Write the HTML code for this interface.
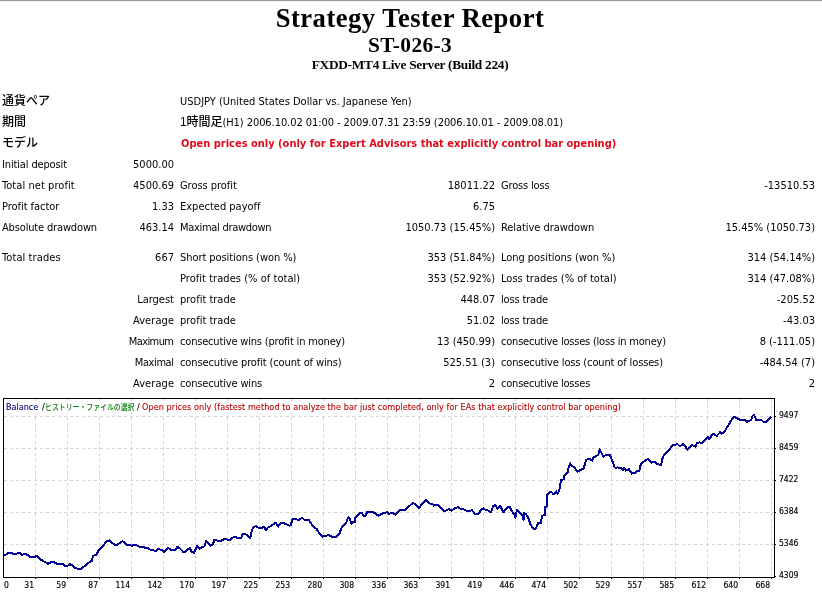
<!DOCTYPE html>
<html><head><meta charset="utf-8"><title>Strategy Tester: ST-026-3</title>
<style>
html,body{margin:0;padding:0;background:#fff;}
body{width:822px;height:592px;overflow:hidden;position:relative;}
.topline{position:absolute;left:0;top:0;width:822px;height:1px;background:#969696;}
.topline2{position:absolute;left:0;top:1px;width:822px;height:1px;background:#f4f4f4;}
.h{position:absolute;left:0;width:820px;text-align:center;font-family:"Liberation Serif","Times New Roman",serif;font-weight:bold;white-space:nowrap;line-height:1;color:#000;}
.t{position:absolute;font-family:"DejaVu Sans Condensed","Liberation Sans",sans-serif;font-size:11px;line-height:11px;white-space:nowrap;color:#000;}
.r{text-align:right;}
.jp{position:absolute;font-family:"Liberation Sans","Noto Sans CJK JP",sans-serif;font-weight:500;font-size:12px;line-height:16px;white-space:nowrap;color:#000;}
.jpi{font-family:"Liberation Sans","Noto Sans CJK JP",sans-serif;font-weight:500;font-size:12px;}
.ch{position:absolute;left:0;top:0;}
.ax{position:absolute;font-family:"DejaVu Sans Condensed","Liberation Sans",sans-serif;font-size:8.5px;line-height:8px;white-space:nowrap;color:#000;-webkit-text-stroke:0.15px #000;}
.lg{position:absolute;font-family:"DejaVu Sans Condensed","Liberation Sans",sans-serif;font-size:9px;line-height:9px;white-space:nowrap;-webkit-text-stroke:0.1px currentColor;}
.lgbg{position:absolute;background:#fff;}
.lgj{position:absolute;font-family:"Liberation Sans","Noto Sans CJK JP",sans-serif;font-weight:500;font-size:8px;line-height:10px;white-space:nowrap;transform:scaleX(0.86);transform-origin:0 0;}
</style></head><body>
<div class="topline"></div><div class="topline2"></div>
<div class="h" style="top:5px;font-size:26.67px;letter-spacing:0.45px">Strategy Tester Report</div>
<div class="h" style="top:35px;font-size:21.33px;letter-spacing:0.4px">ST-026-3</div>
<div class="h" style="top:58px;font-size:13.33px;letter-spacing:-0.28px">FXDD-MT4 Live Server (Build 224)</div>
<div class="jp" style="left:2px;top:93px">通貨ペア</div>
<div class="jp" style="left:2px;top:114px">期間</div>
<div class="jp" style="left:2px;top:135px">モデル</div>
<div class="t" style="left:180px;top:96px;">USDJPY (United States Dollar vs. Japanese Yen)</div>
<div class="t" style="left:180px;top:117px;letter-spacing:-0.067px;"><span class="jpi">1時間足</span>(H1) 2006.10.02 01:00 - 2009.07.31 23:59 (2006.10.01 - 2009.08.01)</div>
<div class="t" style="left:181px;top:138px;color:#dc0c1c;font-weight:bold;">Open prices only (only for Expert Advisors that explicitly control bar opening)</div>
<div class="t" style="left:2px;top:159px;letter-spacing:-0.143px;">Initial deposit</div>
<div class="t r" style="right:648.000px;top:159px;">5000.00</div>
<div class="t" style="left:2px;top:180px;letter-spacing:0.067px;">Total net profit</div>
<div class="t r" style="right:648.000px;top:180px;">4500.69</div>
<div class="t" style="left:180px;top:180px;letter-spacing:-0.045px;">Gross profit</div>
<div class="t r" style="right:327.000px;top:180px;">18011.22</div>
<div class="t" style="left:501px;top:180px;letter-spacing:-0.166px;">Gross loss</div>
<div class="t r" style="right:7.000px;top:180px;">-13510.53</div>
<div class="t" style="left:2px;top:201px;letter-spacing:-0.042px;">Profit factor</div>
<div class="t r" style="right:648.000px;top:201px;">1.33</div>
<div class="t" style="left:180px;top:201px;letter-spacing:0.001px;">Expected payoff</div>
<div class="t r" style="right:327.000px;top:201px;">6.75</div>
<div class="t" style="left:2px;top:222px;letter-spacing:-0.157px;">Absolute drawdown</div>
<div class="t r" style="right:648.000px;top:222px;">463.14</div>
<div class="t" style="left:180px;top:222px;letter-spacing:-0.301px;">Maximal drawdown</div>
<div class="t r" style="right:327.000px;top:222px;">1050.73 (15.45%)</div>
<div class="t" style="left:501px;top:222px;letter-spacing:-0.064px;">Relative drawdown</div>
<div class="t r" style="right:7.000px;top:222px;">15.45% (1050.73)</div>
<div class="t" style="left:2px;top:252px;letter-spacing:0.091px;">Total trades</div>
<div class="t r" style="right:648.000px;top:252px;">667</div>
<div class="t" style="left:180px;top:252px;letter-spacing:-0.069px;">Short positions (won %)</div>
<div class="t r" style="right:327.000px;top:252px;">353 (51.84%)</div>
<div class="t" style="left:501px;top:252px;letter-spacing:-0.046px;">Long positions (won %)</div>
<div class="t r" style="right:7.000px;top:252px;">314 (54.14%)</div>
<div class="t" style="left:180px;top:273px;letter-spacing:0.040px;">Profit trades (% of total)</div>
<div class="t r" style="right:327.000px;top:273px;">353 (52.92%)</div>
<div class="t" style="left:501px;top:273px;letter-spacing:0.021px;">Loss trades (% of total)</div>
<div class="t r" style="right:7.000px;top:273px;">314 (47.08%)</div>
<div class="t r" style="right:648.001px;top:294px;letter-spacing:-0.001px;">Largest</div>
<div class="t" style="left:180px;top:294px;letter-spacing:-0.001px;">profit trade</div>
<div class="t r" style="right:327.000px;top:294px;">448.07</div>
<div class="t" style="left:501px;top:294px;letter-spacing:-0.165px;">loss trade</div>
<div class="t r" style="right:7.000px;top:294px;">-205.52</div>
<div class="t r" style="right:647.916px;top:315px;letter-spacing:0.084px;">Average</div>
<div class="t" style="left:180px;top:315px;letter-spacing:-0.001px;">profit trade</div>
<div class="t r" style="right:327.000px;top:315px;">51.02</div>
<div class="t" style="left:501px;top:315px;letter-spacing:-0.165px;">loss trade</div>
<div class="t r" style="right:7.000px;top:315px;">-43.03</div>
<div class="t r" style="right:648.583px;top:336px;letter-spacing:-0.583px;">Maximum</div>
<div class="t" style="left:180px;top:336px;letter-spacing:-0.182px;">consecutive wins (profit in money)</div>
<div class="t r" style="right:327.000px;top:336px;">13 (450.99)</div>
<div class="t" style="left:501px;top:336px;letter-spacing:-0.212px;">consecutive losses (loss in money)</div>
<div class="t r" style="right:7.000px;top:336px;">8 (-111.05)</div>
<div class="t r" style="right:648.415px;top:357px;letter-spacing:-0.415px;">Maximal</div>
<div class="t" style="left:180px;top:357px;letter-spacing:-0.121px;">consecutive profit (count of wins)</div>
<div class="t r" style="right:327.000px;top:357px;">525.51 (3)</div>
<div class="t" style="left:501px;top:357px;letter-spacing:-0.137px;">consecutive loss (count of losses)</div>
<div class="t r" style="right:7.000px;top:357px;">-484.54 (7)</div>
<div class="t r" style="right:647.916px;top:378px;letter-spacing:0.084px;">Average</div>
<div class="t" style="left:180px;top:378px;letter-spacing:-0.167px;">consecutive wins</div>
<div class="t r" style="right:327.000px;top:378px;">2</div>
<div class="t" style="left:501px;top:378px;letter-spacing:-0.206px;">consecutive losses</div>
<div class="t r" style="right:7.000px;top:378px;">2</div>
<svg class="ch" width="822" height="592" viewBox="0 0 822 592">
<line x1="35.5" y1="399" x2="35.5" y2="577" stroke="#d2d2d2" stroke-width="1" stroke-dasharray="3,3"/>
<line x1="67.5" y1="399" x2="67.5" y2="577" stroke="#d2d2d2" stroke-width="1" stroke-dasharray="3,3"/>
<line x1="99.5" y1="399" x2="99.5" y2="577" stroke="#d2d2d2" stroke-width="1" stroke-dasharray="3,3"/>
<line x1="131.5" y1="399" x2="131.5" y2="577" stroke="#d2d2d2" stroke-width="1" stroke-dasharray="3,3"/>
<line x1="163.5" y1="399" x2="163.5" y2="577" stroke="#d2d2d2" stroke-width="1" stroke-dasharray="3,3"/>
<line x1="195.5" y1="399" x2="195.5" y2="577" stroke="#d2d2d2" stroke-width="1" stroke-dasharray="3,3"/>
<line x1="227.5" y1="399" x2="227.5" y2="577" stroke="#d2d2d2" stroke-width="1" stroke-dasharray="3,3"/>
<line x1="259.5" y1="399" x2="259.5" y2="577" stroke="#d2d2d2" stroke-width="1" stroke-dasharray="3,3"/>
<line x1="291.5" y1="399" x2="291.5" y2="577" stroke="#d2d2d2" stroke-width="1" stroke-dasharray="3,3"/>
<line x1="323.5" y1="399" x2="323.5" y2="577" stroke="#d2d2d2" stroke-width="1" stroke-dasharray="3,3"/>
<line x1="355.5" y1="399" x2="355.5" y2="577" stroke="#d2d2d2" stroke-width="1" stroke-dasharray="3,3"/>
<line x1="387.5" y1="399" x2="387.5" y2="577" stroke="#d2d2d2" stroke-width="1" stroke-dasharray="3,3"/>
<line x1="419.5" y1="399" x2="419.5" y2="577" stroke="#d2d2d2" stroke-width="1" stroke-dasharray="3,3"/>
<line x1="451.5" y1="399" x2="451.5" y2="577" stroke="#d2d2d2" stroke-width="1" stroke-dasharray="3,3"/>
<line x1="483.5" y1="399" x2="483.5" y2="577" stroke="#d2d2d2" stroke-width="1" stroke-dasharray="3,3"/>
<line x1="515.5" y1="399" x2="515.5" y2="577" stroke="#d2d2d2" stroke-width="1" stroke-dasharray="3,3"/>
<line x1="547.5" y1="399" x2="547.5" y2="577" stroke="#d2d2d2" stroke-width="1" stroke-dasharray="3,3"/>
<line x1="579.5" y1="399" x2="579.5" y2="577" stroke="#d2d2d2" stroke-width="1" stroke-dasharray="3,3"/>
<line x1="611.5" y1="399" x2="611.5" y2="577" stroke="#d2d2d2" stroke-width="1" stroke-dasharray="3,3"/>
<line x1="643.5" y1="399" x2="643.5" y2="577" stroke="#d2d2d2" stroke-width="1" stroke-dasharray="3,3"/>
<line x1="675.5" y1="399" x2="675.5" y2="577" stroke="#d2d2d2" stroke-width="1" stroke-dasharray="3,3"/>
<line x1="707.5" y1="399" x2="707.5" y2="577" stroke="#d2d2d2" stroke-width="1" stroke-dasharray="3,3"/>
<line x1="739.5" y1="399" x2="739.5" y2="577" stroke="#d2d2d2" stroke-width="1" stroke-dasharray="3,3"/>
<line x1="771.5" y1="399" x2="771.5" y2="577" stroke="#d2d2d2" stroke-width="1" stroke-dasharray="3,3"/>
<line x1="4" y1="416.5" x2="774" y2="416.5" stroke="#d2d2d2" stroke-width="1" stroke-dasharray="3,3"/>
<line x1="4" y1="448.5" x2="774" y2="448.5" stroke="#d2d2d2" stroke-width="1" stroke-dasharray="3,3"/>
<line x1="4" y1="480.5" x2="774" y2="480.5" stroke="#d2d2d2" stroke-width="1" stroke-dasharray="3,3"/>
<line x1="4" y1="512.5" x2="774" y2="512.5" stroke="#d2d2d2" stroke-width="1" stroke-dasharray="3,3"/>
<line x1="4" y1="544.5" x2="774" y2="544.5" stroke="#d2d2d2" stroke-width="1" stroke-dasharray="3,3"/>
<rect x="3.5" y="398.5" width="771" height="179" fill="none" stroke="#000" stroke-width="1"/>
<rect x="35" y="578" width="1" height="1" fill="#000"/>
<rect x="67" y="578" width="1" height="1" fill="#000"/>
<rect x="99" y="578" width="1" height="1" fill="#000"/>
<rect x="131" y="578" width="1" height="1" fill="#000"/>
<rect x="163" y="578" width="1" height="1" fill="#000"/>
<rect x="195" y="578" width="1" height="1" fill="#000"/>
<rect x="227" y="578" width="1" height="1" fill="#000"/>
<rect x="259" y="578" width="1" height="1" fill="#000"/>
<rect x="291" y="578" width="1" height="1" fill="#000"/>
<rect x="323" y="578" width="1" height="1" fill="#000"/>
<rect x="355" y="578" width="1" height="1" fill="#000"/>
<rect x="387" y="578" width="1" height="1" fill="#000"/>
<rect x="419" y="578" width="1" height="1" fill="#000"/>
<rect x="451" y="578" width="1" height="1" fill="#000"/>
<rect x="483" y="578" width="1" height="1" fill="#000"/>
<rect x="515" y="578" width="1" height="1" fill="#000"/>
<rect x="547" y="578" width="1" height="1" fill="#000"/>
<rect x="579" y="578" width="1" height="1" fill="#000"/>
<rect x="611" y="578" width="1" height="1" fill="#000"/>
<rect x="643" y="578" width="1" height="1" fill="#000"/>
<rect x="675" y="578" width="1" height="1" fill="#000"/>
<rect x="707" y="578" width="1" height="1" fill="#000"/>
<rect x="739" y="578" width="1" height="1" fill="#000"/>
<rect x="771" y="578" width="1" height="1" fill="#000"/>
<rect x="775" y="416" width="1" height="1" fill="#000"/>
<rect x="775" y="448" width="1" height="1" fill="#000"/>
<rect x="775" y="480" width="1" height="1" fill="#000"/>
<rect x="775" y="512" width="1" height="1" fill="#000"/>
<rect x="775" y="544" width="1" height="1" fill="#000"/>
<rect x="775" y="576" width="1" height="1" fill="#000"/>
<polyline points="3.6,555.6 5.8,554.5 8.8,552.9 11.7,553.0 13.5,554.1 16.1,553.9 18.6,552.9 20.4,553.4 22.3,554.9 24.8,553.9 27.7,554.9 29.6,556.7 32.8,557.4 34.7,557.0 36.9,555.8 39.8,559.2 42.3,560.3 45.3,562.2 48.2,563.8 51.1,562.2 54.0,562.2 56.9,563.6 59.9,564.0 62.3,563.7 64.9,565.7 67.8,565.7 70.0,564.1 72.9,565.9 75.1,567.7 78.4,569.1 81.3,569.1 83.8,566.6 87.1,564.1 89.3,562.3 91.9,560.8 93.0,556.1 94.8,555.0 96.6,554.6 98.1,550.9 101.0,548.0 104.6,544.0 106.8,541.1 109.4,540.4 112.9,543.5 116.2,545.3 118.8,543.7 122.4,541.1 124.6,542.4 127.2,545.0 129.7,545.0 131.9,545.9 134.5,544.6 137.7,545.7 139.9,546.9 142.8,546.9 145.8,547.9 148.0,548.2 150.1,549.7 153.1,550.1 155.3,551.2 158.5,548.8 161.8,550.1 164.4,551.9 167.9,547.9 170.8,549.7 175.9,549.7 177.4,546.9 180.3,548.8 184.0,552.6 186.9,549.9 189.8,547.9 191.3,551.2 194.2,553.0 197.1,545.7 199.7,548.6 202.2,546.9 204.4,546.4 206.2,540.9 208.1,543.5 210.3,545.7 212.8,544.6 214.3,539.9 217.6,540.6 221.6,540.9 222.2,540.2 225.1,538.7 228.0,539.8 230.2,539.8 233.9,536.9 236.8,537.6 241.2,537.8 242.3,534.1 245.5,534.1 248.1,536.2 250.3,538.2 251.8,530.7 253.2,527.4 255.8,526.0 258.0,527.6 262.3,527.6 264.2,526.7 265.6,530.3 268.2,527.3 271.1,526.0 275.5,522.7 278.3,526.6 280.1,523.5 283.0,522.8 285.9,524.0 289.2,525.7 290.7,525.3 292.5,519.1 295.4,518.9 297.6,519.9 299.5,519.5 302.0,517.7 304.2,519.6 308.6,519.5 310.8,523.1 314.4,527.5 316.6,528.8 318.8,532.6 322.4,536.6 325.4,535.9 328.6,535.2 331.9,536.6 332.9,536.8 336.2,536.8 339.5,533.8 340.9,529.1 343.1,525.8 346.1,523.2 348.2,517.4 349.7,518.5 351.2,523.6 353.4,521.8 354.8,522.5 355.5,517.4 358.1,515.2 359.9,512.7 362.1,513.0 363.6,516.0 365.8,515.6 366.9,512.3 370.5,511.9 374.5,512.7 378.2,515.6 382.6,513.4 386.9,512.3 387.2,512.5 389.0,513.8 392.3,512.7 395.6,514.9 398.9,510.7 401.8,509.6 405.8,509.6 409.1,506.3 413.1,502.7 415.7,504.9 418.9,508.1 421.9,504.1 426.2,500.1 429.5,503.4 432.4,503.8 433.9,505.6 436.1,504.5 438.3,505.2 440.5,507.8 443.3,510.7 445.8,510.7 448.8,509.2 451.3,510.7 454.6,508.5 457.9,507.0 459.7,508.5 462.6,508.7 465.5,510.3 469.2,511.4 471.8,510.0 474.7,513.6 478.7,513.8 481.2,509.6 483.4,508.5 486.7,510.3 488.5,510.7 491.1,512.5 492.9,506.3 495.5,504.9 497.6,508.8 500.1,505.8 503.4,512.4 505.9,509.1 508.1,506.9 510.0,507.3 511.8,511.3 514.3,514.2 515.4,517.9 516.9,509.9 519.8,512.8 522.4,515.3 523.5,519.7 524.2,513.1 526.4,514.6 528.6,518.6 530.4,524.1 532.2,527.4 534.8,529.2 536.6,527.0 538.1,523.0 540.6,523.4 542.1,515.7 545.0,515.0 545.4,506.6 546.8,506.6 547.3,494.5 549.6,492.3 551.8,492.3 553.4,494.2 556.4,491.5 557.5,494.2 559.1,490.7 560.2,485.4 561.0,480.1 563.6,479.3 564.4,475.9 567.8,472.1 568.2,469.1 570.1,463.4 572.0,466.0 573.9,466.8 577.7,471.7 580.0,470.2 583.8,468.3 586.1,459.6 589.9,459.2 592.1,460.7 593.7,457.3 596.7,455.8 598.2,455.0 599.6,449.5 603.3,456.8 605.9,455.0 609.9,454.6 611.3,458.6 613.2,463.0 614.6,467.4 616.4,467.7 617.9,467.4 620.8,468.1 623.0,470.3 624.1,467.7 625.9,470.6 628.8,469.2 631.8,473.6 635.4,472.8 636.9,471.4 639.4,470.6 640.9,463.7 643.4,461.9 647.8,459.0 651.5,462.6 652.2,462.1 654.7,462.1 656.9,464.3 661.3,464.7 662.0,459.9 663.9,455.2 665.3,453.4 668.2,450.4 670.1,448.6 671.9,445.7 674.5,445.0 677.4,443.9 679.2,445.7 682.1,445.3 683.2,443.9 685.0,445.7 687.2,449.7 689.4,447.9 692.0,445.0 693.8,445.7 695.3,446.8 697.1,442.8 699.6,442.4 701.8,443.1 703.3,441.8 705.8,438.8 707.7,437.0 709.1,439.6 712.8,433.7 716.8,435.9 720.1,432.3 721.9,433.7 725.2,430.4 727.4,426.4 729.2,424.2 730.0,422.6 731.8,419.6 734.0,416.9 736.1,417.8 739.1,419.3 742.2,420.5 744.6,419.6 747.0,421.7 749.5,420.9 751.3,419.9 752.2,416.3 753.7,414.7 754.9,416.6 756.2,419.9 758.6,420.5 761.0,419.6 763.2,421.7 765.0,422.6 767.1,420.5 769.5,418.7 771.4,416.9" fill="none" stroke="#000094" stroke-width="2" stroke-linejoin="round" shape-rendering="crispEdges"/>
</svg>
<div class="lgbg" style="left:5px;top:401px;width:616px;height:12px"></div><div class="lg" style="left:6px;top:403px;color:#00006e">Balance</div><div class="lg" style="left:42px;top:403px;color:#000">/</div><div class="lgj" style="left:45px;top:403px;color:#007a00">ヒストリー・ファイルの選択</div><div class="lg" style="left:137px;top:403px;color:#000">/</div><div class="lg" style="left:142px;top:403px;color:#b80000;letter-spacing:0.068px">Open prices only (fastest method to analyze the bar just completed, only for EAs that explicitly control bar opening)</div>
<div class="ax" style="left:4px;top:581px">0</div>
<div class="ax r" style="right:788px;top:581px">31</div>
<div class="ax r" style="right:756px;top:581px">59</div>
<div class="ax r" style="right:724px;top:581px">87</div>
<div class="ax r" style="right:692px;top:581px">114</div>
<div class="ax r" style="right:660px;top:581px">142</div>
<div class="ax r" style="right:628px;top:581px">170</div>
<div class="ax r" style="right:596px;top:581px">197</div>
<div class="ax r" style="right:564px;top:581px">225</div>
<div class="ax r" style="right:532px;top:581px">253</div>
<div class="ax r" style="right:500px;top:581px">280</div>
<div class="ax r" style="right:468px;top:581px">308</div>
<div class="ax r" style="right:436px;top:581px">336</div>
<div class="ax r" style="right:404px;top:581px">363</div>
<div class="ax r" style="right:372px;top:581px">391</div>
<div class="ax r" style="right:340px;top:581px">419</div>
<div class="ax r" style="right:308px;top:581px">446</div>
<div class="ax r" style="right:276px;top:581px">474</div>
<div class="ax r" style="right:244px;top:581px">502</div>
<div class="ax r" style="right:212px;top:581px">529</div>
<div class="ax r" style="right:180px;top:581px">557</div>
<div class="ax r" style="right:148px;top:581px">585</div>
<div class="ax r" style="right:116px;top:581px">612</div>
<div class="ax r" style="right:84px;top:581px">640</div>
<div class="ax r" style="right:52px;top:581px">668</div>
<div class="ax" style="left:779px;top:411px">9497</div>
<div class="ax" style="left:779px;top:443px">8459</div>
<div class="ax" style="left:779px;top:475px">7422</div>
<div class="ax" style="left:779px;top:507px">6384</div>
<div class="ax" style="left:779px;top:539px">5346</div>
<div class="ax" style="left:779px;top:571px">4309</div>
</body></html>
